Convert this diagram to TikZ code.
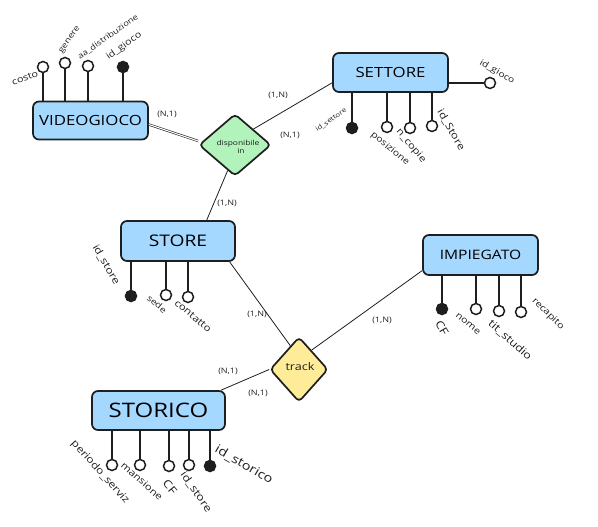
\documentclass[tikz,border=0pt]{standalone}
\usepackage{fontspec}
\setmainfont[FakeStretch=1.2]{Open Sans}
\usetikzlibrary{shapes.geometric}
\definecolor{ent}{HTML}{A5D8FF}
\definecolor{relg}{HTML}{B2F2BB}
\definecolor{trk}{HTML}{FFEC99}
\definecolor{ink}{HTML}{1E1E1E}
\begin{document}
\begin{tikzpicture}[x=1pt,y=-1pt,
  entity/.style={draw=ink, fill=ent, line width=1.7pt, rounded corners=6pt, inner sep=0pt},
  relbox/.style={diamond, draw=ink, line width=1.7pt, rounded corners=4pt, inner sep=0pt, text width=0pt},
  attr/.style={circle, draw=ink, fill=white, line width=1.5pt, minimum size=11pt, inner sep=0pt},
  key/.style={attr, fill=ink},
  stem/.style={draw=ink, line width=1.5pt},
  conn/.style={draw=ink, line width=0.8pt},
  dconn/.style={draw=ink, line width=0.6pt, double=white, double distance=1.1pt},
  lab/.style={text=ink, inner sep=0pt, font=\fontsize{#1}{#1}\selectfont},
  card/.style={text=ink, inner sep=0pt, font=\fontsize{7.5}{8}\selectfont}
]
\useasboundingbox (0,0) rectangle (598,527);

% entities
\node[entity, minimum width=115pt, minimum height=38pt, font=\fontsize{14}{16}\selectfont] (vg) at (90.5,120.5) {VIDEOGIOCO};
\node[entity, minimum width=115pt, minimum height=39pt, font=\fontsize{14}{16}\selectfont] (set) at (390.5,72.5) {SETTORE};
\node[entity, minimum width=114pt, minimum height=40pt, font=\fontsize{16}{18}\selectfont] (sto) at (178,241) {STORE};
\node[entity, minimum width=115pt, minimum height=40pt, font=\fontsize{13}{15}\selectfont] (imp) at (480.5,255) {IMPIEGATO};
\node[entity, minimum width=133pt, minimum height=39pt, font=\fontsize{20}{22}\selectfont] (hist) at (158.5,410.5) {STORICO};

% relationships
\node[relbox, fill=relg, minimum width=72pt, minimum height=62pt] (disp) at (235,145) {};
\node[lab=7, align=center] (disptxt) at (238,147) {disponibile\\[1pt]\hspace*{6pt}in};
\node[relbox, fill=trk, minimum width=58pt, minimum height=65pt] (trk) at (299,369.5) {};
\node[lab=10.5] (trktxt) at (300,367) {track};

% connectors
\draw[dconn] ([yshift=-4pt]vg.east) -- ([yshift=4pt]disp.west);
\draw[conn] (disp.north east) -- (set.190);
\draw[conn] (disp.254) -- (sto.36);
\draw[conn] (sto.-22) -- (trk.110);
\draw[conn] (imp.195) -- (trk.57);
\draw[conn] (trk.west) -- (hist.18);

% cardinalities
\node[card] (c1) at (167,114) {(N,1)};
\node[card] (c2) at (278,95) {(1,N)};
\node[card] (c3) at (290,135) {(N,1)};
\node[card] (c4) at (227,203) {(1,N)};
\node[card] (c5) at (257,314) {(1,N)};
\node[card] (c6) at (382,320) {(1,N)};
\node[card] (c7) at (228,371) {(N,1)};
\node[card] (c8) at (258,393) {(N,1)};

% VIDEOGIOCO attributes
\node[attr] (vg1) at (43,67) {};
\node[attr] (vg2) at (65,63) {};
\node[attr] (vg3) at (88,66) {};
\node[key]  (vg4) at (123,67) {};
\foreach \a in {vg1,vg2,vg3,vg4} \draw[stem] (\a) -- (\a |- vg.north);
\node[lab=9, rotate=20] (vgl1) at (25,78) {costo};
\node[lab=8, rotate=55] (vgl2) at (70,40) {genere};
\node[lab=7.8, rotate=35] (vgl3) at (108,37) {aa\_distribuzione};
\node[lab=9, rotate=35] (vgl4) at (124,46) {id\_gioco};

% SETTORE attributes
\node[key]  (s1) at (352,128) {};
\node[attr] (s2) at (387,127) {};
\node[attr] (s3) at (410,128) {};
\node[attr] (s4) at (432,126) {};
\foreach \a in {s1,s2,s3,s4} \draw[stem] (\a) -- (\a |- set.south);
\node[attr] (s5) at (490,83) {};
\draw[stem] (s5) -- (s5 -| set.east);
\node[lab=6.5, rotate=35] (sl1) at (331,120) {id\_settore};
\node[lab=8.8, rotate=-40] (sl2) at (390,149) {posizione};
\node[lab=9.5, rotate=-50] (sl3) at (411,146) {n\_copie};
\node[lab=10, rotate=-60] (sl4) at (451,130) {id\_Store};
\node[lab=8.5, rotate=-30] (sl5) at (497,72) {id\_gioco};

% STORE attributes
\node[key]  (t1) at (131,296) {};
\node[attr] (t2) at (166,295) {};
\node[attr] (t3) at (188,297) {};
\foreach \a in {t1,t2,t3} \draw[stem] (\a) -- (\a |- sto.south);
\node[lab=10, rotate=-60] (tl1) at (106,265) {id\_store};
\node[lab=8.5, rotate=-40] (tl2) at (157,304) {sede};
\node[lab=9.5, rotate=-40] (tl3) at (193,316) {contatto};

% IMPIEGATO attributes
\node[key]  (i1) at (442,309) {};
\node[attr] (i2) at (476,309) {};
\node[attr] (i3) at (499,311) {};
\node[attr] (i4) at (521,312) {};
\foreach \a in {i1,i2,i3,i4} \draw[stem] (\a) -- (\a |- imp.south);
\node[lab=11, rotate=-60] (il1) at (442,328) {CF};
\node[lab=9, rotate=-40] (il2) at (468,324) {nome};
\node[lab=10.5, rotate=-42] (il3) at (510,340) {tit\_studio};
\node[lab=9, rotate=-45] (il4) at (548,314) {recapito};

% STORICO attributes
\node[attr] (h1) at (112,465) {};
\node[attr] (h2) at (140,465) {};
\node[attr] (h3) at (169,466) {};
\node[attr] (h4) at (189,465) {};
\node[key]  (h5) at (210,466) {};
\foreach \a in {h1,h2,h3,h4,h5} \draw[stem] (\a) -- (\a |- hist.south);
\node[lab=10, rotate=-48] (hl1) at (100,472) {periodo\_serviz};
\node[lab=9.4, rotate=-42] (hl2) at (142,481) {mansione};
\node[lab=11, rotate=-50] (hl3) at (170,487) {CF};
\node[lab=10.5, rotate=-55] (hl4) at (196,492) {id\_store};
\node[lab=12, rotate=-30] (hl5) at (244,465) {id\_storico};
\end{tikzpicture}
\end{document}
